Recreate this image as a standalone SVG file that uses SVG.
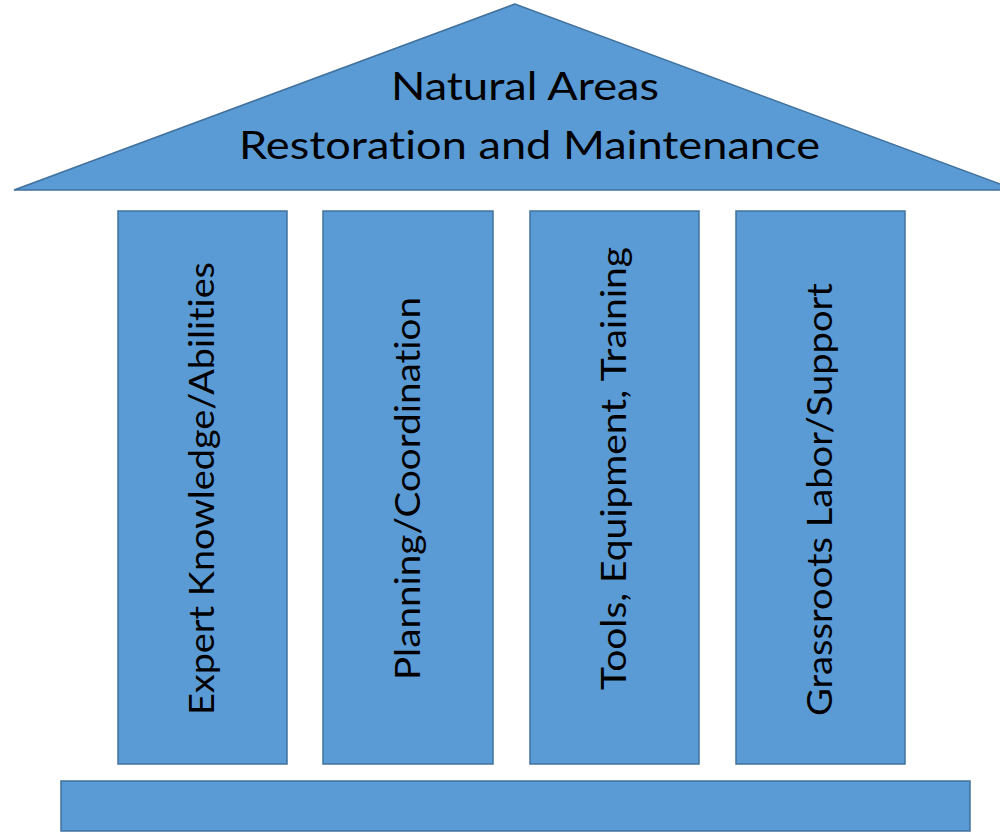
<svg xmlns="http://www.w3.org/2000/svg" width="1000" height="832" viewBox="0 0 1000 832">
<style>
.shape{fill:#5B9BD5;stroke:#41719C;stroke-width:1.5}
.t{font-family:Lato,"Open Sans","Liberation Sans",sans-serif;fill:#000;text-anchor:middle;font-variant-ligatures:none}
.roof{font-size:39px}
.col{font-size:35px}
</style>
<rect width="1000" height="832" fill="#fff"/>
<g id="roof">
<polygon class="shape" points="515,4 14,190 1016,190"/>
<text class="t roof" x="525" y="100" textLength="268" lengthAdjust="spacingAndGlyphs">Natural Areas</text>
<text class="t roof" x="529.5" y="159" textLength="581" lengthAdjust="spacingAndGlyphs">Restoration and Maintenance</text>
</g>
<g id="pillar1">
<rect class="shape" x="118" y="211" width="169" height="553"/>
<text class="t col" transform="translate(214,488.5) rotate(-90)" textLength="453" lengthAdjust="spacingAndGlyphs">Expert Knowledge/Abilities</text>
</g>
<g id="pillar2">
<rect class="shape" x="323" y="211" width="170" height="553"/>
<text class="t col" transform="translate(420,488.5) rotate(-90)" textLength="383" lengthAdjust="spacingAndGlyphs">Planning/Coordination</text>
</g>
<g id="pillar3">
<rect class="shape" x="530" y="211" width="169" height="553"/>
<text class="t col" transform="translate(626,468.5) rotate(-90)" textLength="443" lengthAdjust="spacingAndGlyphs">Tools, Equipment, Training</text>
</g>
<g id="pillar4">
<rect class="shape" x="736" y="211" width="169" height="553"/>
<text class="t col" transform="translate(832,499.5) rotate(-90)" textLength="433" lengthAdjust="spacingAndGlyphs">Grassroots Labor/Support</text>
</g>
<g id="base">
<rect class="shape" x="61" y="781" width="909" height="50"/>
</g>
<g id="connectors"></g>
</svg>
